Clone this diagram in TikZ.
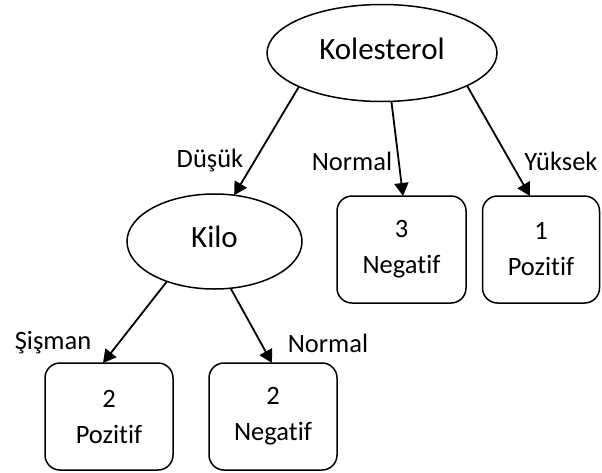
\documentclass[tikz,border=0pt]{standalone}
\usepackage{fontspec}
\setmainfont[RawFeature={-liga}]{Carlito}
\usetikzlibrary{shapes.geometric,arrows.meta}

\tikzset{
  attr/.style={draw, ellipse, line width=1.5pt, inner sep=0pt, outer sep=0pt,
    text depth=9pt, font=\fontsize{31}{37}\selectfont},
  leaf/.style={draw, rectangle, rounded corners=15pt, line width=1.5pt,
    inner sep=0pt, outer sep=0pt, minimum height=107pt, align=center,
    font=\fontsize{26.5}{36}\selectfont},
  branch/.style={line width=1.8pt, -{Triangle[length=13pt,width=14pt]}},
  lbl/.style={inner sep=0pt, font=\fontsize{26.5}{32}\selectfont}
}

\begin{document}
\begin{tikzpicture}[x=1pt,y=-1pt]
  \useasboundingbox (0,0) rectangle (602,472);

  % decision nodes
  \node[attr, minimum width=230pt, minimum height=97pt] (kol) at (382,53) {Kolesterol};
  \node[attr, minimum width=175pt, minimum height=95pt] (kilo) at (214.5,241.5) {Kilo};

  % leaves
  \node[leaf, minimum width=129pt] (neg3) at (401.5,249.5) {3\\Negatif};
  \node[leaf, minimum width=117pt] (poz1) at (541,249.5) {1\\Pozitif};
  \node[leaf, minimum width=128pt] (poz2) at (109,416.5) {2\\Pozitif};
  \node[leaf, minimum width=128pt] (neg2) at (273,416.5) {2\\Negatif};

  % branches
  \draw[branch] (kol.202.4) -- (kilo.67);
  \draw[branch] (kol.281.5) -- ([xshift=1.5pt]neg3.north);
  \draw[branch] (kol.339.2) -- ([xshift=-11pt]poz1.north);
  \draw[branch] (kilo.220) -- ([xshift=-6pt]poz2.north);
  \draw[branch] (kilo.289.8) -- ([xshift=-1pt]neg2.north);

  % branch labels
  \node[lbl] (ldusuk) at (210,161) {Düşük};
  \node[lbl] (lnorm1) at (352,161) {Normal};
  \node[lbl] (lyuksek) at (561,161) {Yüksek};
  \node[lbl] (lsisman) at (53,343) {Şişman};
  \node[lbl] (lnorm2) at (328,343) {Normal};
\end{tikzpicture}
\end{document}
